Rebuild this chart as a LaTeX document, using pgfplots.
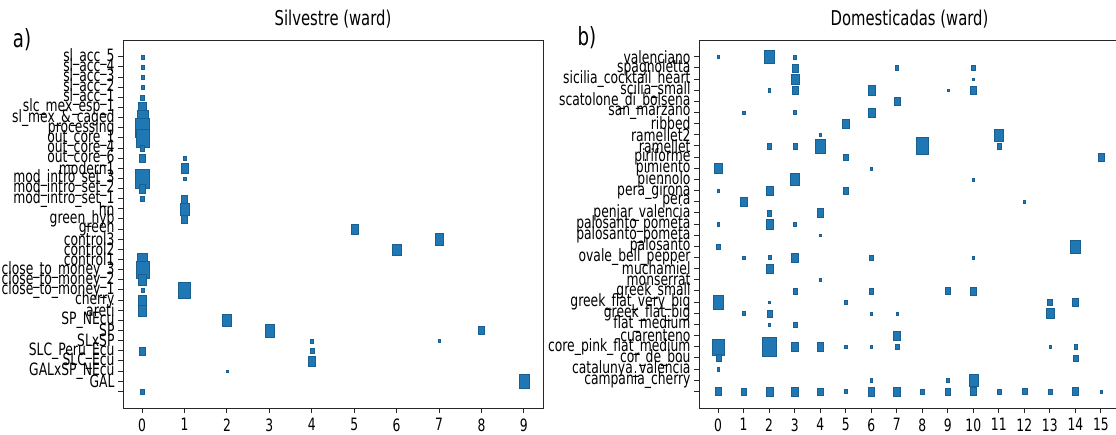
\documentclass[border=0pt]{standalone}
\usepackage{fontspec}
\setmainfont{DejaVu Sans}[FakeStretch=0.726]
\usepackage{pgfplots}
\pgfplotsset{compat=1.18}
\usepackage{pgfplotstable}
\definecolor{c0}{HTML}{1F77B4}
\pgfplotstableread{
x y w
0 0 3
0 1 3
0 2 3
0 3 3
0 4 4
0 5 8
0 6 11
0 7 14
0 8 13
0 9 4
0 10 6
0 12 14
0 13 6
0 14 3.5
0 20 10
0 21 13
0 22 8
0 23 3
0 24 8
0 25 8
0 29 6
0 33 3.5
1 10 2.5
1 11 7.5
1 12 2.5
1 14 6
1 15 9
1 16 6
1 23 12
2 26 9
2 31 2
3 27 9.5
4 28 3
4 29 4
4 30 7
5 17 7
6 19 8.5
7 18 8.5
7 28 2.5
8 27 6
9 32 10.5
}\silv
\pgfplotstableread{
x y w
0 0 2
2 0 10
3 0 3
3 1 6
7 1 3.5
10 1 3.5
3 2 8
10 2 2
2 3 2.5
3 3 6
6 3 7
9 3 2
10 3 6
7 4 6
1 5 2.5
3 5 3
6 5 7
5 6 7
4 7 2.5
11 7 9
2 8 4
3 8 4
4 8 10
8 8 12.5
11 8 4
5 9 4.5
15 9 6
0 10 7.5
6 10 2
3 11 9
10 11 2
0 12 2.5
2 12 7
5 12 4.5
1 13 7
12 13 2
2 14 4.5
4 14 6.5
0 15 2.5
2 15 7
3 15 3
4 16 2
0 17 4
14 17 10
1 18 2.5
2 18 3
3 18 7
6 18 4
10 18 2
2 19 7
4 20 2.5
3 21 4
6 21 4.5
9 21 5
10 21 6
0 22 10
2 22 2
5 22 2.5
13 22 5
14 22 6
1 23 2.5
2 23 5
6 23 2
7 23 2
13 23 7.5
2 24 2
3 24 4
7 25 6.5
0 26 12
2 26 14
3 26 6.5
4 26 6.5
5 26 2.5
6 26 2.5
7 26 4
13 26 2
14 26 3.5
0 27 5
14 27 4.5
0 28 2.5
6 29 2.5
9 29 2.5
10 29 9
0 30 6
1 30 5
2 30 7
3 30 6.5
4 30 5.5
5 30 3
6 30 6.5
7 30 6.5
8 30 4
9 30 5
10 30 6
11 30 4
12 30 4.5
13 30 4
14 30 6
15 30 2.5
}\dom
\pgfplotsset{
  panel/.style={
    scale only axis, width=420pt, height=368pt,
    y dir=reverse,
    axis line style={line width=0.9pt, black!85},
    tick style={line width=0.9pt, black!85},
    tick align=outside, major tick length=5pt,
    xtick pos=bottom, ytick pos=left,
    tick label style={font=\fontsize{17}{17}\selectfont},
    xticklabel style={yshift=-2pt},
    /pgf/number format/assume math mode=true,
    title style={font=\fontsize{20.4}{20.4}\selectfont, inner sep=0pt, yshift=6pt},
    clip=false,
    colormap={single}{color(0)=(c0) color(1)=(c0)},
  },
  bubble/.style={scatter, only marks, mark=square*,
    visualization depends on={\thisrow{w}/2 \as \ms},
    scatter/@pre marker code/.append style={/tikz/mark size=\ms},
    mark options={yscale=1.35, line width=0.1pt}},
}
\begin{document}
\begin{tikzpicture}
\path[use as bounding box] (0,0) rectangle (1116pt,434pt);
\begin{axis}[panel, at={(123pt,26pt)}, anchor=south west,
  xmin=-0.45, xmax=9.45, ymin=-1.65, ymax=34.65,
  xtick={0,...,9}, ytick={0,...,33},
  yticklabels={sl\_acc\_5, sl\_acc\_4, sl\_acc\_3, sl\_acc\_2, sl\_acc\_1, slc\_mex\_esp\_1, sl\_mex\_\&\_caged, processing, out\_core\_1, out\_core\_4, out\_core\_6, modern1, mod\_intro\_set\_3, mod\_intro\_set\_2, mod\_intro\_set\_1, hn, green\_hyb, green, control3, control2, control1, close\_to\_money\_3, close\_to\_money\_2, close\_to\_money\_1, cherry, areti, SP\_NEcu, SP, SLxSP, SLC\_Peru\_Ecu, SLC\_Ecu, GALxSP\_NEcu, GAL, {}},
  title={Silvestre (ward)}]
\addplot[bubble] table {\silv};
\end{axis}
\begin{axis}[panel, at={(699pt,26pt)}, anchor=south west, width=421pt,
  xmin=-0.75, xmax=15.75, ymin=-1.5, ymax=31.5,
  xtick={0,...,15}, ytick={0,...,30},
  yticklabels={valenciano, spagnoletta, sicilia\_cocktail\_heart, scilia\_small, scatolone\_di\_bolsena, san\_marzano, ribbed, ramellet2, ramellet, piriforme, pimiento, piennolo, pera\_girona, pera, penjar\_valencia, palosanto\_pometa, palosanto\_pometa, palosanto, ovale\_bell\_pepper, muchamiel, monserrat, greek\_small, greek\_flat\_very\_big, greek\_flat\_big, flat\_medium, cuarenteno, core\_pink\_flat\_medium, cor\_de\_bou, catalunya\_valencia, campania\_cherry, {}},
  title={Domesticadas (ward)}]
\addplot[bubble] table {\dom};
\end{axis}
\node[font=\fontsize{25}{25}\selectfont] at (22pt,394pt) {a)};
\node[font=\fontsize{25}{25}\selectfont] at (587pt,396pt) {b)};
\end{tikzpicture}
\end{document}
